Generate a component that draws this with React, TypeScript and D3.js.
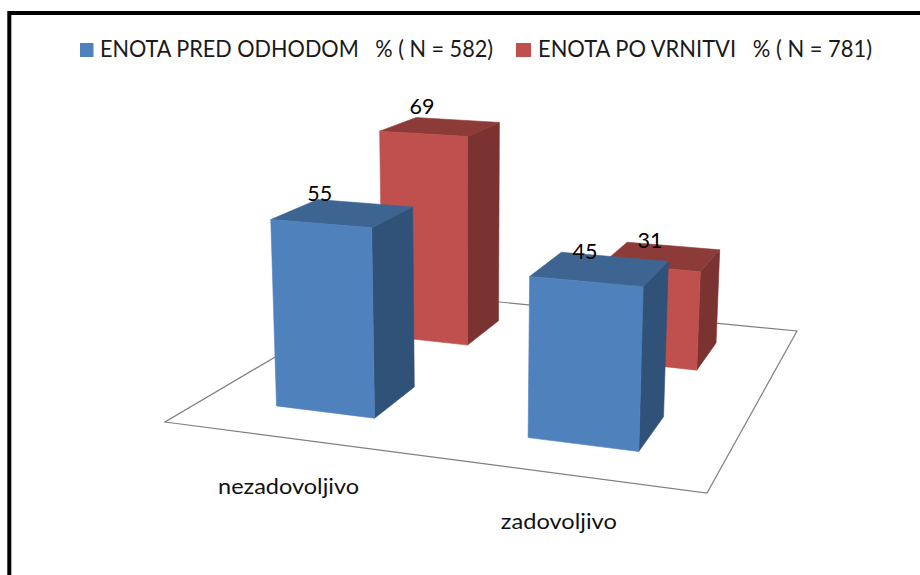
import React from "react";
import * as d3 from "d3";

const categories = ["nezadovoljivo", "zadovoljivo"];
const seriesNames = ["ENOTA PRED ODHODOM   % ( N = 582)", "ENOTA PO VRNITVI   % ( N = 781)"];
const beforeValues = [55, 45];
const afterValues = [69, 31];

const WIDTH = 920;
const HEIGHT = 575;
const FONT = "Lato, 'Open Sans', sans-serif";

const palette = [
  { front: "#4f81bd", side: "#305278", top: "#3e6491" },
  { front: "#c0504d", side: "#7a3331", top: "#8d3b39" },
];

// Floor quad of the 3-D plot on screen: front-left, front-right, back-right, back-left
const A: [number, number] = [165, 422];
const B: [number, number] = [707, 493];
const C: [number, number] = [797, 331];
const D: [number, number] = [387, 291];

// Perspective foreshortening along both floor axes
const warp = (k: number) => (t: number) => (k * t) / (1 + (k - 1) * t);
const warpX = warp(0.886);
const warpZ = warp(1.286);

const xBand = d3.scaleBand<string>().domain(categories).range([0, 1]).paddingInner(0.596).paddingOuter(0.298);
const zBand = d3.scaleBand<string>().domain(seriesNames).range([0.003, 1.003]).paddingInner(0.604).paddingOuter(0.302);

const lerpX = d3.scaleLinear().domain([0, 1]);
const floorPoint = (tx: number, tz: number): [number, number] => {
  const u = warpX(tx);
  const v = warpZ(tz);
  const left = [lerpX.range([A[0], D[0]])(v), lerpX.range([A[1], D[1]])(v)];
  const right = [lerpX.range([B[0], C[0]])(v), lerpX.range([B[1], C[1]])(v)];
  return [lerpX.range([left[0], right[0]])(u), lerpX.range([left[1], right[1]])(u)];
};

// Pixels per value unit grows toward the viewer; verticals lean away from a vanishing column
const unitPx = d3.scaleLinear().domain([320, 451]).range([2.87, 3.66]);
const VANISH_X = 470;
const LEAN = 1.6e-4;
const raise = ([x, y]: [number, number], value: number): [number, number] => {
  const h = value * unitPx(y);
  return [x + (x - VANISH_X) * LEAN * h, y - h];
};

const line = d3.line<[number, number]>().x((d) => d[0]).y((d) => d[1]);
const poly = (pts: [number, number][]) => line(pts) + "Z";

const seriesValues = [beforeValues, afterValues];

type Bar = { s: number; c: number; value: number };
const bars: Bar[] = [];
[1, 0].forEach((s) => categories.forEach((_, c) => bars.push({ s, c, value: seriesValues[s][c] })));

const legendItems = [
  { x: 80, w: 13.5, tx: 100, tw: 393 },
  { x: 516, w: 15, tx: 538, tw: 334 },
];

export default function App() {
  return (
    <svg
      width={WIDTH}
      height={HEIGHT}
      viewBox={`0 0 ${WIDTH} ${HEIGHT}`}
      style={{ position: "absolute", left: 0, top: 0, display: "block", background: "#fff" }}
    >
      <path d={`M9.3,${HEIGHT}V13H${WIDTH}`} fill="none" stroke="#000" strokeWidth={4} />

      {seriesNames.map((name, i) => (
        <g key={name}>
          <rect x={legendItems[i].x} y={43} width={legendItems[i].w} height={14} fill={palette[i].front} />
          <text
            x={legendItems[i].tx}
            y={57}
            fontFamily={FONT}
            fontSize={23}
            fill="#1a1a1a"
            textLength={legendItems[i].tw}
            lengthAdjust="spacingAndGlyphs"
            style={{ whiteSpace: "pre" }}
          >
            {name}
          </text>
        </g>
      ))}

      <path d={poly([A, B, C, D])} fill="#fff" stroke="#808080" strokeWidth={1.2} />

      {bars.map(({ s, c, value }) => {
        const x0 = xBand(categories[c])!;
        const x1 = x0 + xBand.bandwidth();
        const z0 = zBand(seriesNames[s])!;
        const z1 = z0 + zBand.bandwidth();
        const fl = floorPoint(x0, z0);
        const fr = floorPoint(x1, z0);
        const br = floorPoint(x1, z1);
        const bl = floorPoint(x0, z1);
        const flT = raise(fl, value);
        const frT = raise(fr, value);
        const brT = raise(br, value);
        const blT = raise(bl, value);
        return (
          <g key={`${s}-${c}`}>
            <path d={poly([fr, br, brT, frT])} fill={palette[s].side} stroke={palette[s].side} strokeWidth={0.6} />
            <path d={poly([flT, frT, brT, blT])} fill={palette[s].top} stroke={palette[s].top} strokeWidth={0.6} />
            <path d={poly([fl, fr, frT, flT])} fill={palette[s].front} stroke={palette[s].front} strokeWidth={0.6} />
          </g>
        );
      })}

      {bars.map(({ s, c, value }) => {
        const x0 = xBand(categories[c])!;
        const z0 = zBand(seriesNames[s])!;
        const l = raise(floorPoint(x0, z0), value);
        const r = raise(floorPoint(x0 + xBand.bandwidth(), z0), value);
        return (
          <text
            key={`label-${s}-${c}`}
            x={(l[0] + r[0]) / 2 - 1.5}
            y={(l[1] + r[1]) / 2 - (s === 0 ? 23 : 19.5)}
            textAnchor="middle"
            fontFamily={FONT}
            fontSize={21.5}
            fill="#000"
          >
            {value}
          </text>
        );
      })}

      {categories.map((cat) => {
        const t = xBand(cat)! + xBand.bandwidth() / 2;
        const [x, y] = floorPoint(t, 0);
        return (
          <text
            key={cat}
            x={x}
            y={y + 55.5}
            textAnchor="middle"
            fontFamily={FONT}
            fontSize={21}
            fill="#111"
            textLength={cat.length === 13 ? 141 : 116}
            lengthAdjust="spacingAndGlyphs"
          >
            {cat}
          </text>
        );
      })}
    </svg>
  );
}
